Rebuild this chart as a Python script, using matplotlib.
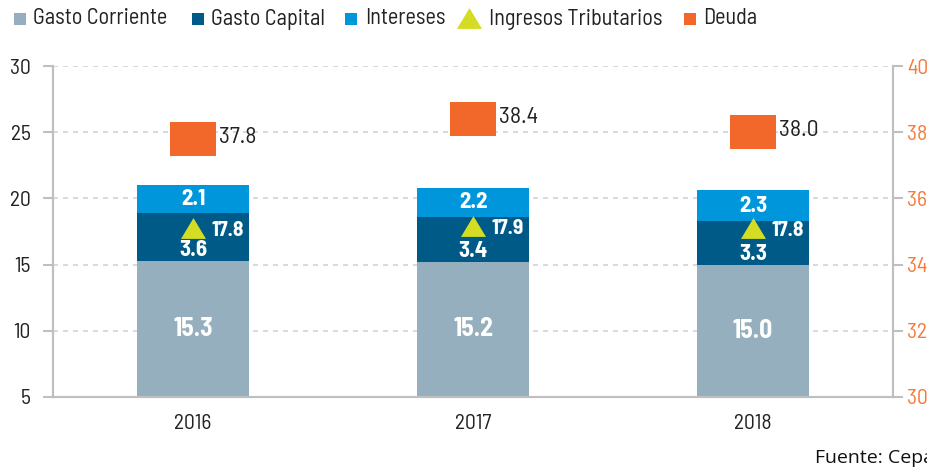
import matplotlib
matplotlib.use("Agg")
import matplotlib.pyplot as plt
from matplotlib.lines import Line2D

years = ["2016", "2017", "2018"]
gasto_corriente = [15.3, 15.2, 15.0]
gasto_capital = [3.6, 3.4, 3.3]
intereses = [2.1, 2.2, 2.3]
ingresos_tributarios = [17.8, 17.9, 17.8]
deuda = [37.8, 38.4, 38.0]

left_ticks = [5, 10, 15, 20, 25, 30]
right_ticks = [30, 32, 34, 36, 38, 40]

C_CORR = "#96AFBE"
C_CAP = "#005A87"
C_INT = "#0096DB"
C_TRI = "#D4DD24"
C_DEU = "#F2672A"
C_RT = "#F47B3A"
C_SPINE = "#BFBFBF"
C_GRID = "#D3D3D3"

COND = ["Barlow Semi Condensed", "Roboto Condensed", "DejaVu Sans"]
plt.rcParams["font.family"] = COND

fig = plt.figure(figsize=(9.27, 4.68), dpi=100)
ax = fig.add_axes([53 / 927, 1 - 397 / 468, (893 - 53) / 927, (397 - 66) / 468])
ax2 = ax.twinx()

x = list(range(len(years)))
w = 0.4
ymin, ymax = 5, 30

ax.bar(x, gasto_corriente, width=w, color=C_CORR, zorder=2)
ax.bar(x, gasto_capital, width=w, bottom=gasto_corriente, color=C_CAP, zorder=2)
bottom3 = [a + b for a, b in zip(gasto_corriente, gasto_capital)]
ax.bar(x, intereses, width=w, bottom=bottom3, color=C_INT, zorder=2)

tri = [(0, 1), (-1.2, -1), (1.2, -1), (0, 1)]
ax.plot(x, ingresos_tributarios, linestyle="none", marker=tri, ms=18,
        color=C_TRI, mew=0, zorder=4)

for i in x:
    ax.text(i, (ymin + gasto_corriente[i]) / 2, f"{gasto_corriente[i]:.1f}",
            ha="center", va="center", color="white", fontsize=18.5,
            fontweight="bold", zorder=5)
    ax.text(i, gasto_corriente[i] + 0.8, f"{gasto_capital[i]:.1f}",
            ha="center", va="center", color="white", fontsize=16.5,
            fontweight="bold", zorder=5)
    ax.text(i, bottom3[i] + intereses[i] / 2, f"{intereses[i]:.1f}",
            ha="center", va="center", color="white", fontsize=16.5,
            fontweight="bold", zorder=5)
    ax.annotate(f"{ingresos_tributarios[i]:.1f}", (i, ingresos_tributarios[i]),
                xytext=(13, -2), textcoords="offset points", ha="left",
                va="center", color="white", fontsize=15.5, fontweight="bold",
                zorder=5)

ax.set_xlim(-0.5, 2.5)
ax.set_ylim(ymin, ymax)
ax.set_yticks(left_ticks)
ax.set_yticklabels([str(t) for t in left_ticks])
ax.set_xticks(x)
ax.set_xticklabels(years)

for t in left_ticks[1:]:
    ax.axhline(t, color=C_GRID, lw=1.2, ls=(0, (3, 3)), zorder=1)

rect = [(-1.31, -1), (1.31, -1), (1.31, 1), (-1.31, 1), (-1.31, -1)]
ax2.plot(x, deuda, linestyle="none", marker=rect, ms=33, color=C_DEU,
         mew=0, zorder=4)
for i in x:
    ax2.annotate(f"{deuda[i]:.1f}", (i, deuda[i]), xytext=(19, 1),
                 textcoords="offset points", ha="left", va="center",
                 color="#222222", fontsize=17)
ax2.set_ylim(30, 40)
ax2.set_yticks(right_ticks)
ax2.set_yticklabels([str(t) for t in right_ticks])

for a in (ax, ax2):
    a.spines["top"].set_visible(False)
    for s in ("left", "right", "bottom"):
        a.spines[s].set_color(C_SPINE)
        a.spines[s].set_linewidth(1.5)
    a.set_facecolor("none")

ax.tick_params(axis="y", which="both", length=7, width=1.5, color=C_SPINE,
               labelsize=15.5, labelcolor="#222222", pad=9)
ax.tick_params(axis="x", length=0, labelsize=15.5, labelcolor="#222222", pad=12)
ax2.tick_params(axis="y", length=7, width=1.5, color=C_SPINE, labelsize=15.5,
                labelcolor=C_RT, pad=3)

# Legend
ly = 1 - 19 / 468
items = [
    ("s", C_CORR, 20, "Gasto Corriente", 33),
    ("s", C_CAP, 198, "Gasto Capital", 211),
    ("s", C_INT, 351, "Intereses", 365),
    ("^", C_TRI, 469, "Ingresos Tributarios", 489),
    ("s", C_DEU, 690, "Deuda", 703),
]
for m, c, mx, label, tx in items:
    if m == "s":
        fig.add_artist(Line2D([mx / 927], [ly], marker="s", ms=9, color=c,
                              mew=0, linestyle="none", transform=fig.transFigure))
    else:
        fig.add_artist(Line2D([mx / 927], [ly + 1 / 468], marker=tri, ms=18, color=c,
                              mew=0, linestyle="none", transform=fig.transFigure))
    fig.text(tx / 927, ly, label, ha="left", va="center", fontsize=16,
             color="#222222")

fig.text(815 / 927, 1 - 458 / 468, "Fuente: Cepa", ha="left", va="center",
         fontsize=14, color="#111111", family=["Open Sans", "DejaVu Sans"])

fig.savefig("out.png", dpi=100)
